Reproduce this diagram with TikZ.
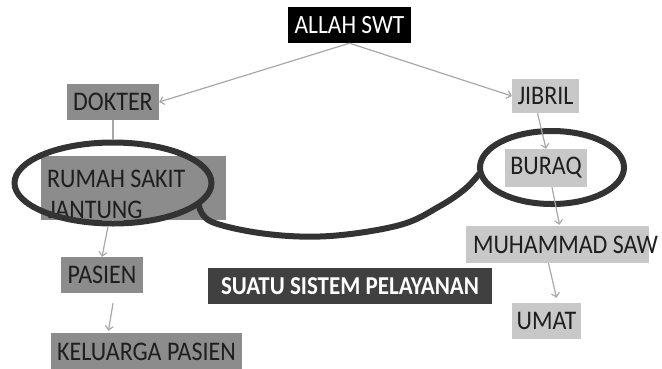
\documentclass[tikz,border=0pt]{standalone}
\usepackage{fontspec}
\setmainfont{Carlito}
\usetikzlibrary{shapes.geometric,arrows.meta,calc}
\definecolor{midgray}{HTML}{8C8C8C}
\definecolor{ltgray}{HTML}{C8C8C8}
\definecolor{ringgray}{HTML}{333333}
\definecolor{arrgray}{HTML}{A8A8A8}
\definecolor{txtdark}{HTML}{1E1E1E}
\definecolor{sysgray}{HTML}{404040}
\newcommand{\tallt}[1]{\scalebox{1}[1.12]{#1}}
\begin{document}
\begin{tikzpicture}[x=1pt,y=-1pt,
  box/.style={inner sep=0pt, font=\fontsize{24}{28}\selectfont, text=txtdark},
  darkbox/.style={box, fill=midgray},
  lightbox/.style={box, fill=ltgray},
  ring/.style={ellipse, draw=ringgray, line width=6pt, inner sep=0pt},
  conn/.style={draw=arrgray, line width=1.2pt, -{Straight Barb[length=4pt,width=8pt]}},
  plain/.style={draw=arrgray, line width=1.2pt}]
\useasboundingbox (0,0) rectangle (662,368);
% top node
\node[fill=black, text=white, font=\fontsize{23.5}{28}\selectfont, minimum width=123pt, minimum height=36pt, inner sep=0pt] (allah) at (349.5,25) {\tallt{ALLAH SWT}};
% left column
\node[darkbox, minimum width=92pt, minimum height=36pt] (dokter) at (113,102) {\tallt{DOKTER}};
\node[darkbox, minimum width=185pt, minimum height=64pt] (rumah) at (133.5,188) {};
\begin{scope}
  \clip (rumah.south west) rectangle (rumah.north east);
  \node[box, anchor=base west] (rs1) at (47,187) {\tallt{RUMAH SAKIT}};
  \node[box, anchor=base west] (rs2) at (48,218) {\tallt{JANTUNG}};
\end{scope}
\node[darkbox, minimum width=82pt, minimum height=36pt] (pasien) at (102,275) {\tallt{PASIEN}};
\node[darkbox, minimum width=191pt, minimum height=37pt] (keluarga) at (146.5,351.5) {\tallt{KELUARGA PASIEN}};
% right column
\node[lightbox, minimum width=67pt, minimum height=34pt] (jibril) at (545.5,96) {\tallt{JIBRIL}};
\node[lightbox, minimum width=82pt, minimum height=38pt] (buraq) at (546,168) {\tallt{BURAQ}};
\node[lightbox, minimum height=37pt, inner xsep=7pt] (muhammad) at (557.5,244.5) {\makebox[169pt][l]{\tallt{MUHAMMAD SAW}}};
\node[lightbox, minimum width=69pt, minimum height=36pt] (umat) at (546.5,321) {\tallt{UMAT}};
% system label
\node[fill=sysgray, text=white, font=\fontsize{23}{27}\selectfont\bfseries, minimum width=284pt, minimum height=36pt, inner sep=0pt] (sistem) at (350,286) {\tallt{SUATU SISTEM PELAYANAN}};
% rings
\node[ring, minimum width=197pt, minimum height=81pt] (lring) at (113,183) {};
\node[ring, minimum width=144pt, minimum height=73pt] (rring) at (552,167.5) {};
\coordinate (cstart) at (199,206);
\coordinate (cend) at (479,174);
\draw[ringgray, line width=6pt, line cap=round] plot[smooth, tension=0.6] coordinates {(cstart) (212,222) (267,234) (330,236) (400,225) (440,206) (465,189) (cend)};
% connectors
\draw[conn] (allah.south) -- (dokter.east);
\draw[conn] (allah.south) -- (jibril.west);
\draw[plain] (dokter.south) -- (lring.north);
\draw[conn] ([xshift=-5pt]lring.south) -- (pasien.north);
\draw[conn] ([xshift=11pt,yshift=-10pt]pasien.south) -- ([xshift=-38pt,yshift=2pt]keluarga.north);
\draw[conn] ([xshift=-8pt]jibril.south) -- (buraq.north);
\draw[conn] ([xshift=6pt]buraq.south) -- ([xshift=2pt,yshift=1pt]muhammad.north);
\draw[conn] ([xshift=-9pt]muhammad.south) -- ([xshift=10pt,yshift=5pt]umat.north);
\end{tikzpicture}
\end{document}
